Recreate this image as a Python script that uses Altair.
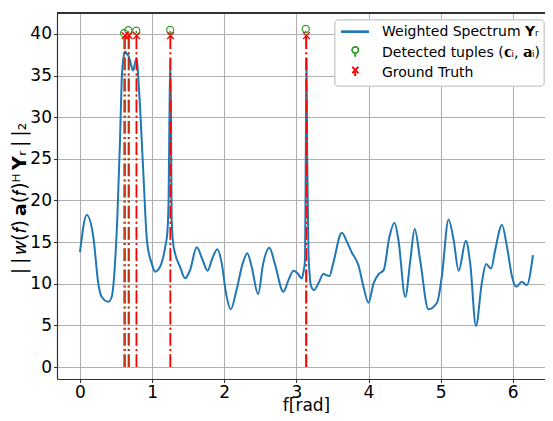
import altair as alt
import pandas as pd

# Spectrum samples
freq = [0.0, 0.093, 0.185, 0.254, 0.30, 0.393, 0.44, 0.485, 0.52, 0.555, 0.578, 0.60, 0.624,
        0.65, 0.675, 0.705, 0.735, 0.765, 0.786, 0.81, 0.832, 0.878, 0.93, 0.994, 1.04, 1.11,
        1.19, 1.21, 1.228, 1.24, 1.252, 1.262, 1.27, 1.29, 1.318, 1.387, 1.456, 1.526, 1.618,
        1.70, 1.77, 1.826, 1.905, 1.965, 2.025, 2.09, 2.17, 2.256, 2.32, 2.38, 2.469, 2.54,
        2.626, 2.70, 2.82, 2.89, 2.96, 3.01, 3.075, 3.10, 3.12, 3.13, 3.14, 3.15, 3.167, 3.185,
        3.20, 3.245, 3.306, 3.375, 3.458, 3.51, 3.63, 3.70, 3.77, 3.86, 3.93, 4.0, 4.07, 4.14,
        4.21, 4.29, 4.36, 4.415, 4.51, 4.58, 4.64, 4.716, 4.83, 4.95, 5.016, 5.11, 5.18, 5.25,
        5.35, 5.41, 5.49, 5.57, 5.63, 5.70, 5.756, 5.85, 5.92, 5.99, 6.05, 6.126, 6.195, 6.28]
spectrum = [13.8, 18.25, 15.6, 10.0, 8.44, 7.84, 8.44, 12.4, 18.5, 27.3, 34.5, 37.0, 37.9,
            37.6, 37.3, 36.4, 35.6, 36.6, 37.1, 34.5, 31.3, 23.3, 15.0, 12.45, 11.45, 12.04,
            14.85, 16.05, 20.0, 30.0, 37.0, 30.0, 18.0, 15.0, 13.65, 12.04, 10.65, 11.64, 14.37,
            12.85, 11.56, 12.85, 14.13, 12.45, 8.85, 6.93, 9.24, 12.45, 13.65, 12.04, 8.76, 12.45,
            14.32, 12.45, 9.04, 10.44, 11.56, 11.32, 10.65, 11.5, 12.85, 25.0, 37.0, 25.0, 14.05, 11.0,
            9.84, 9.24, 10.05, 11.16, 10.92, 12.45, 16.12, 15.04, 13.72, 12.24, 9.64, 7.72, 10.05, 11.16,
            11.64, 15.64, 17.32, 15.25, 8.44, 12.85, 16.57, 12.85, 6.93, 7.72, 10.84, 17.73, 15.25, 11.56,
            15.16, 12.45, 4.92, 10.05, 12.36, 11.84, 14.05, 17.05, 14.44, 10.84, 9.64, 10.24, 9.84, 13.45]

det_freq = [0.61, 0.67, 0.78, 1.25, 3.13]
det_amp = [40.1, 40.45, 40.4, 40.5, 40.6]
gt_freq = [0.625, 0.68, 0.785, 1.255, 3.14]
gt_amp = [39.8, 39.8, 39.8, 39.8, 39.8]

x_ticks = [0, 1, 2, 3, 4, 5, 6]
y_ticks = [0, 5, 10, 15, 20, 25, 30, 35, 40]

legend_labels = ["Weighted Spectrum 𝗬ᵣ", "Detected tuples (𝗰ᵢ, 𝗮ᵢ)", "Ground Truth"]
y_title = "|\u2009|\u2009𝑤(𝑓)\u2009𝗮(𝑓)ᴴ\u2009𝗬ᵣ\u2009|\u2009|₂"

W, H = 488, 366
FONT = "DejaVu Sans"
XDOM = [-0.319, 6.447]
YDOM = [-1.44, 42.52]

spec_df = pd.DataFrame({"f": freq, "v": spectrum})
det_df = pd.DataFrame({"f": det_freq, "v": det_amp, "z": [0] * len(det_freq)})
gt_df = pd.DataFrame({"f": gt_freq, "v": gt_amp, "z": [0] * len(gt_freq)})

xs = alt.Scale(domain=XDOM, nice=False, zero=False)
ys = alt.Scale(domain=YDOM, nice=False, zero=False)

xaxis = alt.Axis(values=x_ticks, title="f[rad]", format="d", titleX=249, titleY=31,
                 titleBaseline="alphabetic", titleAlign="center")
yaxis = alt.Axis(values=y_ticks, title=y_title, format="d", titleX=-32, titleY=185,
                 titleBaseline="alphabetic", titleFontSize=19)

line = alt.Chart(spec_df).mark_line(color="#1f77b4", strokeWidth=2, interpolate="monotone").encode(
    x=alt.X("f:Q", scale=xs, axis=xaxis),
    y=alt.Y("v:Q", scale=ys, axis=yaxis),
)

dash = [12.8, 3.2, 2, 3.2]
det_stem = alt.Chart(det_df).mark_rule(color="#2ca02c", strokeWidth=1.5, strokeDash=dash).encode(
    x="f:Q", y="z:Q", y2="v:Q")
gt_stem = alt.Chart(gt_df).mark_rule(color="#ff0000", strokeWidth=1.5, strokeDash=dash).encode(
    x="f:Q", y="z:Q", y2="v:Q")
det_pt = alt.Chart(det_df).mark_point(shape="circle", filled=False, color="#2ca02c",
                                      size=50, strokeWidth=1.2, opacity=1).encode(x="f:Q", y="v:Q")
XPATH = "M-1,-1L1,1M-1,1L1,-1"
gt_pt = alt.Chart(gt_df).mark_point(shape=XPATH, filled=False, color="#ff0000",
                                    size=45, strokeWidth=1.3, opacity=1).encode(x="f:Q", y="v:Q")

top_spine = alt.Chart(spec_df).mark_rule(color="#333333", strokeWidth=1.2).encode(
    x=alt.value(0), x2=alt.value(W + 5), y=alt.value(0))

# Legend (drawn by hand)
leg_df = pd.DataFrame({"label": legend_labels, "ty": [18.7, 39.7, 59.7]})
box = alt.Chart(leg_df).mark_rect(fill="white", fillOpacity=0.85, stroke="#cccccc",
                                  strokeWidth=1, cornerRadius=3).encode(
    x=alt.value(278), x2=alt.value(487), y=alt.value(7), y2=alt.value(73))
leg_text = alt.Chart(leg_df).mark_text(align="left", baseline="middle", font=FONT,
                                       fontSize=14, color="black").encode(
    x=alt.value(325), y=alt.Y("ty:Q", scale=None), text="label:N")
leg_line = alt.Chart(leg_df).mark_rule(color="#1f77b4", strokeWidth=2).encode(
    x=alt.value(284), x2=alt.value(312), y=alt.value(18.7))
leg_det_stem = alt.Chart(leg_df).mark_rule(color="#2ca02c", strokeWidth=1.5).encode(
    x=alt.value(298.3), y=alt.value(40), y2=alt.value(43.5))
leg_det_pt = alt.Chart(leg_df).mark_point(shape="circle", filled=False, color="#2ca02c",
                                          size=40, strokeWidth=1.2, opacity=1).encode(
    x=alt.value(298.3), y=alt.value(37))
leg_gt_stem = alt.Chart(leg_df).mark_rule(color="#ff0000", strokeWidth=1.5).encode(
    x=alt.value(298.3), y=alt.value(59), y2=alt.value(63))
leg_gt_pt = alt.Chart(leg_df).mark_point(shape=XPATH, filled=False, color="#ff0000",
                                         size=36, strokeWidth=1.3, opacity=1).encode(
    x=alt.value(298.3), y=alt.value(57))

chart = alt.layer(line, det_stem, gt_stem, det_pt, gt_pt, top_spine,
                  box, leg_line, leg_det_stem, leg_det_pt, leg_gt_stem, leg_gt_pt, leg_text).properties(
    width=W, height=H,
    autosize=alt.AutoSizeParams(type="none"),
    padding={"left": 49, "top": 5, "right": 0, "bottom": 34},
).configure_view(stroke=None).configure_axis(
    labelFont=FONT, labelFontSize=17, labelColor="black",
    titleFont=FONT, titleFontSize=17, titleFontWeight="normal", titleColor="black",
    grid=True, gridColor="#b0b0b0", gridWidth=1.1,
    domainColor="#333333", domainWidth=1.2,
    tickColor="#333333", tickSize=3.5, tickWidth=1, labelPadding=2,
)

chart.save("out.html", embed_options={"renderer": "svg", "actions": False})
